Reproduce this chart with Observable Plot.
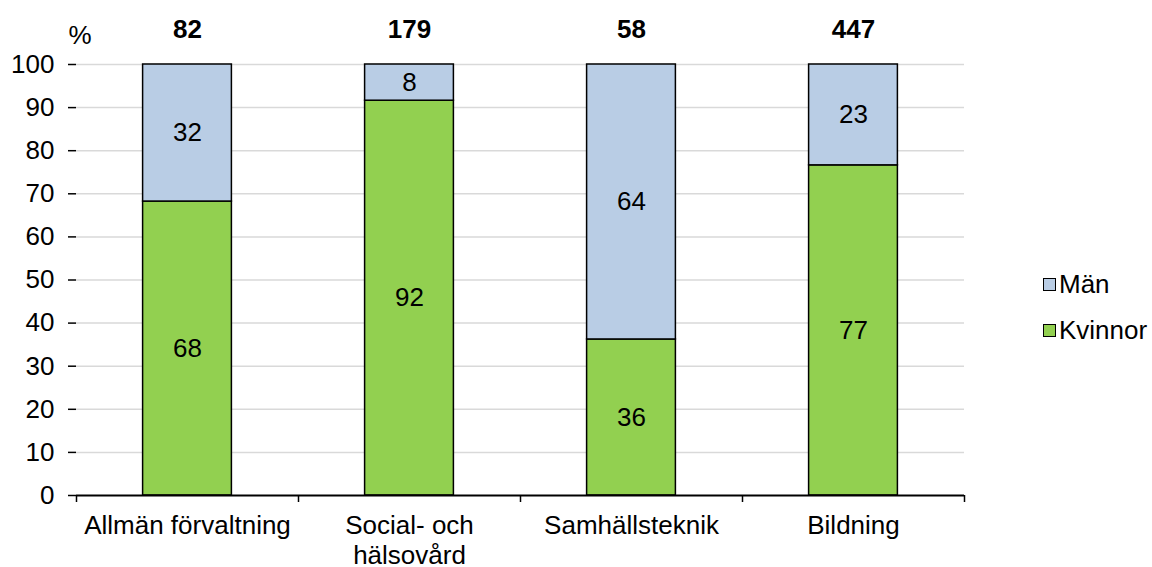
<!DOCTYPE html>
<html>
<head>
<meta charset="utf-8">
<script src="https://cdn.jsdelivr.net/npm/d3@7"></script>
<script src="https://cdn.jsdelivr.net/npm/@observablehq/plot@0.6"></script>
<style>
  html, body { margin: 0; padding: 0; background: #fff; }
  #wrap { position: relative; width: 1152px; height: 567px; font-family: "Liberation Sans", Arial, sans-serif; }
  #legend { position: absolute; left: 1043px; top: 261px; font-size: 26px; color: #000; }
  .li { display: flex; align-items: center; height: 46px; }
  .sw { width: 11px; height: 11px; border: 1.5px solid #000; margin-right: 3px; }
</style>
</head>
<body>
<div id="wrap"></div>
<script>
const categories = ["Allmän förvaltning", "Social- och\nhälsovård", "Samhällsteknik", "Bildning"];
const series = ["Kvinnor", "Män"];
const kvinnor = [68.2, 91.6, 36.2, 76.6];
const man = [31.8, 8.4, 63.8, 23.4];
const kvinnorLabels = [68, 92, 36, 77];
const manLabels = [32, 8, 64, 23];
const totals = [82, 179, 58, 447];
const yTicks = [0, 10, 20, 30, 40, 50, 60, 70, 80, 90, 100];
const colors = ["#92d050", "#b9cde5"];

const rows = [];
categories.forEach((c, i) => rows.push({cat: c, group: "Kvinnor", value: kvinnor[i], label: kvinnorLabels[i]}));
categories.forEach((c, i) => rows.push({cat: c, group: "Män", value: man[i], label: manLabels[i]}));
const totalRows = categories.map((c, i) => ({cat: c, total: totals[i]}));

const W = 1152, H = 567, mL = 76, mR = 188, mT = 64, mB = 72;
const band = (W - mL - mR) / categories.length;
const barInset = band * 0.3;
const FS = 26;

const chart = Plot.plot({
  width: W, height: H,
  marginLeft: mL, marginRight: mR, marginTop: mT, marginBottom: mB,
  style: {fontFamily: '"Liberation Sans", Arial, sans-serif', fontSize: FS + "px", color: "#000", background: "transparent", overflow: "visible"},
  x: {domain: categories, padding: 0},
  y: {domain: [0, 100]},
  color: {domain: series, range: colors},
  marks: [
    Plot.ruleY(yTicks.filter(d => d > 0), {stroke: "#d9d9d9", strokeWidth: 1.5}),
    Plot.barY(rows, Plot.stackY({x: "cat", y: "value", z: "group", fill: "group", stroke: "#000", strokeWidth: 1.5, insetLeft: barInset, insetRight: barInset})),
    Plot.text(rows, Plot.stackY({x: "cat", y: "value", z: "group", text: "label", fontSize: FS, fill: "#000"})),
    Plot.text(totalRows, {x: "cat", y: 100, text: "total", dy: -35, fontWeight: "bold", fontSize: FS, fill: "#000"}),
    Plot.ruleY([0], {stroke: "#000", strokeWidth: 2}),
    Plot.ruleX(categories, {x: d => d, dx: -band / 2, y1: 0, y2: 0, insetBottom: -7, stroke: "#000", strokeWidth: 1.5}),
    Plot.ruleX([categories[categories.length - 1]], {x: d => d, dx: band / 2, y1: 0, y2: 0, insetBottom: -7, stroke: "#000", strokeWidth: 1.5}),
    Plot.axisY({ticks: yTicks, tickSize: 8, tickPadding: 14, tickFormat: d => d, label: null, fontSize: FS, stroke: "#000", strokeWidth: 1.5}),
    Plot.ruleX([0], {frameAnchor: "left", stroke: "#000", strokeWidth: 1.5}),
    Plot.text(["%"], {frameAnchor: "top-left", dx: -8, dy: -39, fontSize: FS, fill: "#000"}),
    Plot.axisX({tickSize: 0, tickPadding: 18, label: null, fontSize: FS, lineHeight: 1.13})
  ]
});

const wrap = document.getElementById("wrap");
wrap.appendChild(chart);

const legend = document.createElement("div");
legend.id = "legend";
["Män", "Kvinnor"].forEach(s => {
  const li = document.createElement("div");
  li.className = "li";
  const sw = document.createElement("div");
  sw.className = "sw";
  sw.style.background = colors[series.indexOf(s)];
  const t = document.createElement("span");
  t.textContent = s;
  li.appendChild(sw); li.appendChild(t);
  legend.appendChild(li);
});
wrap.appendChild(legend);
</script>
</body>
</html>
